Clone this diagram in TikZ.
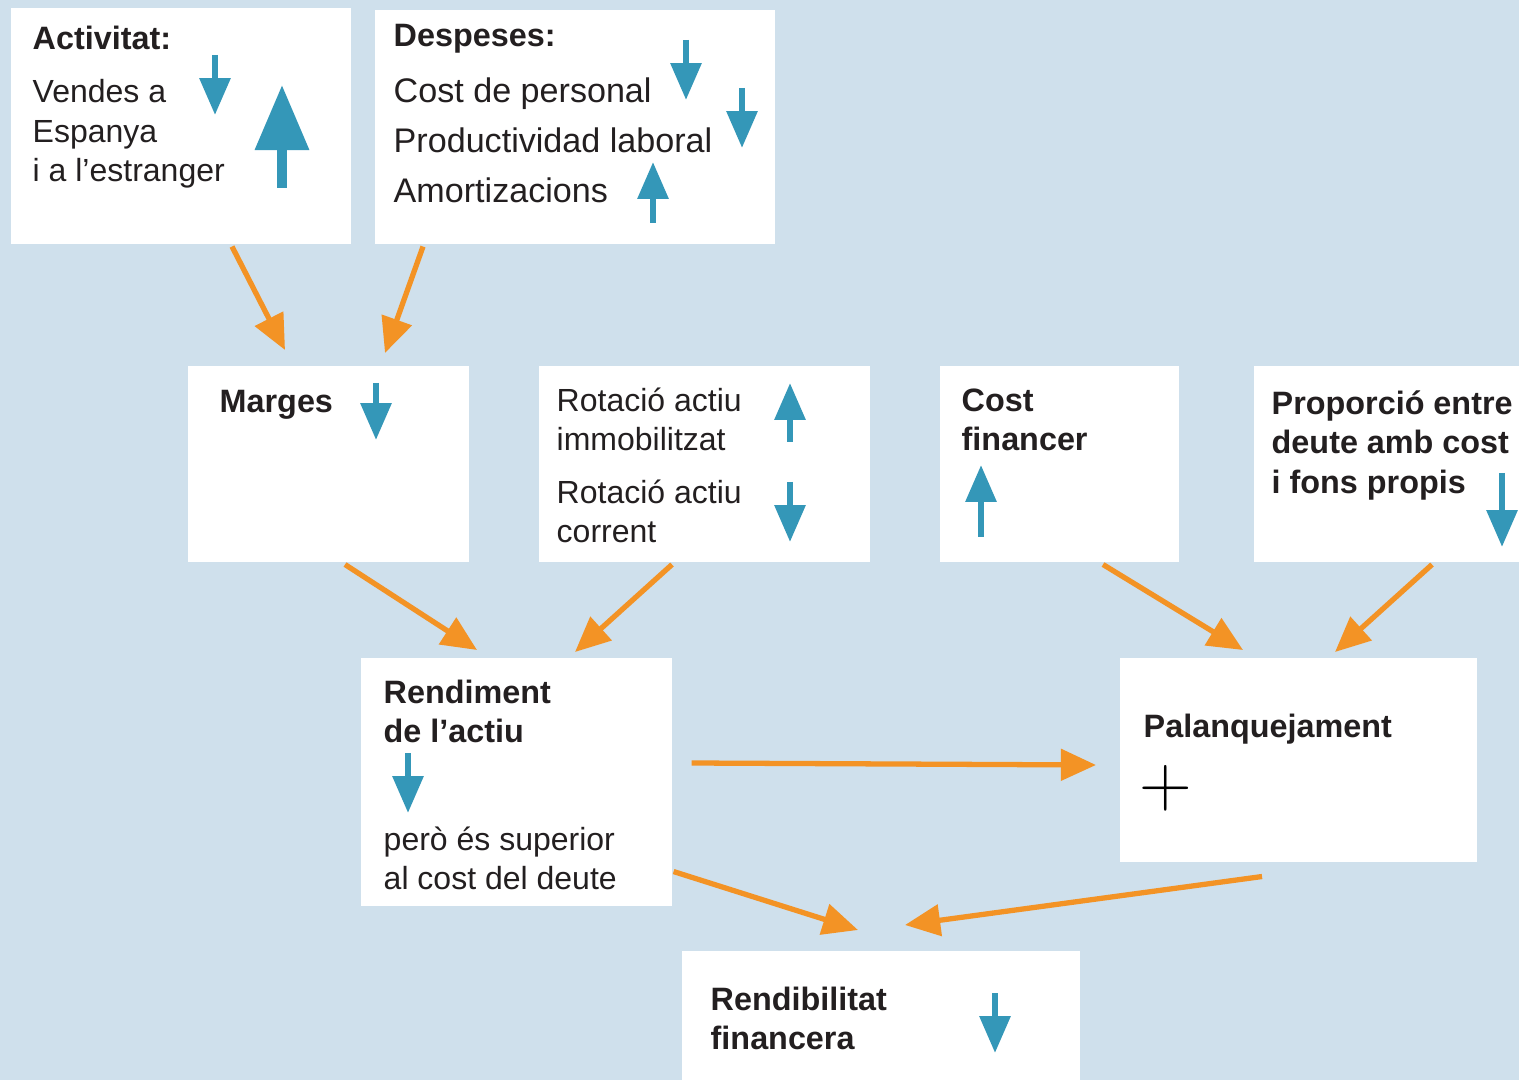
\documentclass[tikz,border=0pt]{standalone}
\usepackage{fontspec}
\setmainfont{Liberation Sans}
\usetikzlibrary{arrows.meta,calc}
\definecolor{bgblue}{HTML}{CFE0EC}
\definecolor{flowor}{HTML}{F39325}
\definecolor{indblue}{HTML}{3497B8}
\definecolor{inktext}{HTML}{231F20}
\tikzset{
	box/.style = {fill=white, inner sep=0pt, anchor=north west},
	txt/.style = {align=left, inner sep=0pt, anchor=north west, text=inktext, font=\fontsize{9.1}{11.2}\selectfont},
	bigtxt/.style = {txt, font=\fontsize{9.7}{14.2}\selectfont},
	hdr/.style = {txt, font=\fontsize{9.2}{11.2}\selectfont\bfseries},
	flow/.style = {draw=flowor, line width=1.5pt, -{Triangle[length=10pt,width=8.8pt]}},
	ind/.style = {draw=indblue, line width=1.8pt, -{Triangle[length=10.5pt,width=8.5pt]}},
	bigind/.style = {draw=indblue, line width=2.8pt, -{Triangle[length=18.5pt,width=14.8pt]}}
}

\begin{document}
\begin{tikzpicture}[x=0.01cm, y=-0.01cm]
		\clip (0,0) rectangle (1519,1080);
		\fill[bgblue] (0,0) rectangle (1519,1080);
		% boxes
		\node [box, minimum width=3.40cm, minimum height=2.36cm] (act) at (10,7) {};
		\node [box, minimum width=4.00cm, minimum height=2.34cm] (desp) at (374,9) {};
		\node [box, minimum width=2.81cm, minimum height=1.96cm] (mar) at (187,365) {};
		\node [box, minimum width=3.31cm, minimum height=1.96cm] (rot) at (538,365) {};
		\node [box, minimum width=2.39cm, minimum height=1.96cm] (cfin) at (939,365) {};
		\node [box, minimum width=3.00cm, minimum height=1.96cm] (prop) at (1253,365) {};
		\node [box, minimum width=3.11cm, minimum height=2.48cm] (rend) at (360,657) {};
		\node [box, minimum width=3.57cm, minimum height=2.04cm] (pal) at (1119,657) {};
		\node [box, minimum width=3.98cm, minimum height=1.50cm] (rfin) at (681,950) {};
		% texts
		\node [hdr] (acttl) at (32,25) {Activitat:};
		\node [txt] (acttx) at (32,79) {Vendes a\\Espanya\\i a l’estranger};
		\node [hdr] (desptl) at (393,24) {Despeses:};
		\node [bigtxt] (desptx) at (393,77) {Cost de personal\\Productividad laboral\\Amortizacions};
		\node [hdr] (martl) at (219,390) {Marges};
		\node [txt] (rottxa) at (556,387) {Rotació actiu\\immobilitzat};
		\node [txt] (rottxb) at (556,479) {Rotació actiu\\corrent};
		\node [hdr] (cfintl) at (961,388) {Cost\\financer};
		\node [hdr] (proptl) at (1271,390) {Proporció entre\\deute amb cost\\i fons propis};
		\node [hdr] (rendtl) at (383,679) {Rendiment\\de l’actiu};
		\node [txt] (rendtx) at (383,826) {però és superior\\al cost del deute};
		\node [hdr] (paltl) at (1143,713) {Palanquejament};
		\node [inner sep=0pt] (palplus) at (1166,788) {\fontsize{21}{21}\selectfont$+$};
		\node [hdr] (rfintl) at (710,986) {Rendibilitat\\financera};
		% up and down marks
		\draw [ind] (215,55) -- (215,115);
		\draw [bigind] (282,188) -- (282,85);
		\draw [ind] (686,40) -- (686,100);
		\draw [ind] (742,88) -- (742,148);
		\draw [ind] (653,223) -- (653,162);
		\draw [ind] (376,383) -- (376,440);
		\draw [ind] (790,442) -- (790,383);
		\draw [ind] (790,482) -- (790,542);
		\draw [ind] (981,537) -- (981,465);
		\draw [ind] (1502,473) -- (1502,547);
		\draw [ind] (408,753) -- (408,813);
		\draw [ind] (995,993) -- (995,1053);
		% flow arrows
		\draw [flow] ($(act.south west)+(222,2)$) -- ($(mar.north west)+(98,-15)$);
		\draw [flow] ($(desp.south west)+(49,2)$) -- ($(mar.north west)+(198,-12)$);
		\draw [flow] ($(mar.south west)+(158,2)$) -- ($(rend.north west)+(117,-7)$);
		\draw [flow] ($(rot.south west)+(134,2)$) -- ($(rend.north west)+(215,-5)$);
		\draw [flow] ($(cfin.south west)+(164,2)$) -- ($(pal.north west)+(124,-7)$);
		\draw [flow] ($(prop.south west)+(179,2)$) -- ($(pal.north west)+(216,-5)$);
		\draw [flow] ($(rend.north east)+(19,106)$) -- ($(pal.north west)+(-23,108)$);
		\draw [flow] ($(rend.south east)+(1,-35)$) -- ($(rfin.north west)+(177,-20)$);
		\draw [flow] ($(pal.south west)+(143,14)$) -- ($(rfin.north west)+(224,-25)$);
\end{tikzpicture}
\end{document}
